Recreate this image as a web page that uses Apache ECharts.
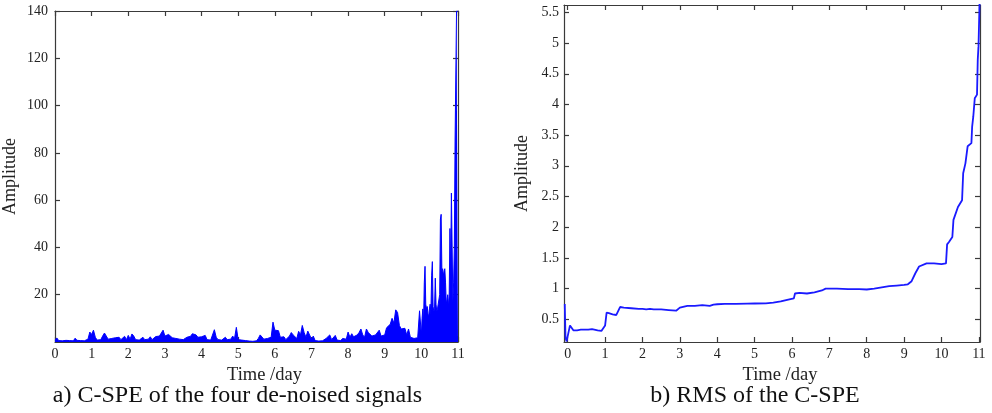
<!DOCTYPE html>
<html><head><meta charset="utf-8">
<script src="https://cdn.jsdelivr.net/npm/echarts@6/dist/echarts.min.js"></script>
<style>html,body{margin:0;padding:0;background:#fff}#c{width:992px;height:413px}</style>
</head><body><div id="c"></div>
<script>
// ---- data ----
const xTicks = [0,1,2,3,4,5,6,7,8,9,10,11];
const speYTicks = [20,40,60,80,100,120,140];
const rmsYTicks = [0.5,1,1.5,2,2.5,3,3.5,4,4.5,5,5.5];

// C-SPE, days 0 .. 9.95 sampled every 0.05 day
const speStart0 = 0, speStep0 = 0.05;
const spe0 = [
  0.8,1.7,0.6,0.9,0.5,1.2,0.7,1.4,0.6,0.9,0.5,1.6,0.7,0.8,0.6,1.3,0.5,0.9,1.2,4.2,
  3.2,5.0,2.0,0.8,0.6,1.0,2.5,3.8,3.9,1.2,0.9,1.5,0.8,1.8,1.2,2.0,1.0,1.4,2.4,1.0,
  2.8,1.2,3.4,2.5,1.0,1.5,0.8,1.2,2.0,1.0,1.6,1.2,2.2,1.0,1.5,2.3,1.8,2.5,3.0,5.0,
  2.5,2.0,3.2,2.8,1.8,2.5,1.5,2.2,1.2,1.8,1.0,1.6,2.0,1.2,2.4,3.5,2.8,3.0,2.0,1.5,
  2.2,1.5,2.8,1.0,1.6,0.8,1.5,5.2,2.0,1.0,1.5,0.8,1.2,2.0,1.0,1.8,1.2,2.5,1.5,6.2,
  1.0,0.4,0.8,0.3,0.6,1.0,0.4,0.7,0.3,0.8,0.5,1.5,3.0,2.8,1.2,0.8,1.5,1.0,2.0,8.4,
  5.0,4.5,4.8,2.0,1.5,2.2,1.0,1.8,2.5,4.0,3.0,3.8,1.5,4.5,3.0,7.0,4.0,2.0,4.6,3.0,
  1.2,2.5,0.6,0.8,0.4,0.7,0.5,1.2,1.5,2.0,3.0,1.0,1.5,2.8,0.8,1.2,0.6,1.5,2.0,1.2,
  4.2,2.0,3.5,2.2,2.8,3.0,4.0,5.5,3.0,2.0,5.5,4.0,4.5,2.5,1.8,3.0,3.5,5.0,2.5,2.0,
  3.0,6.0,5.5,7.5,10.0,8.0,13.6,12.5,7.0,5.5,5.0,5.8,3.0,5.5,2.0,1.8,1.5,2.2,1.8,13.2
];
// C-SPE, days 10.00 .. 11.00 sampled every 0.02 day
const speStart1 = 10, speStep1 = 0.02;
const spe1 = [
  3.0,10.0,14.0,8.0,25.0,32.0,16.0,14.0,15.0,12.0,
  10.5,14.0,16.0,12.0,28.0,34.0,15.0,13.0,14.0,27.0,
  16.0,13.0,14.0,13.5,14.0,20.0,52.0,54.0,30.0,31.0,
  28.0,30.0,31.0,25.0,16.0,18.0,20.0,15.0,20.0,48.0,
  30.0,63.0,40.0,17.0,25.0,40.0,85.0,85.0,140,140,
  140
];

// RMS of the C-SPE
const rmsT = [-0.08,-0.06,-0.03,0.02,0.06,0.1,0.15,0.2,0.25,0.3,0.35,0.4,0.45,0.5,0.55,0.6,0.65,0.7,0.8,0.9,0.95,1.0,1.04,1.1,1.2,1.3,1.35,1.4,1.45,1.5,1.7,1.9,2.0,2.1,2.2,2.3,2.5,2.7,2.9,2.95,3.0,3.05,3.2,3.4,3.6,3.8,3.9,4.0,4.2,4.5,4.8,5.0,5.3,5.5,5.7,5.9,6.05,6.08,6.2,6.4,6.6,6.8,6.9,7.2,7.5,7.8,8.0,8.2,8.4,8.6,8.8,9.0,9.1,9.2,9.3,9.4,9.45,9.6,9.8,10.0,10.12,10.15,10.2,10.29,10.32,10.35,10.44,10.55,10.58,10.64,10.7,10.8,10.82,10.85,10.89,10.95,10.97,10.99,11.02];
const rmsV = [0.75,0.2,0.14,0.14,0.40,0.37,0.32,0.34,0.32,0.34,0.33,0.34,0.33,0.32,0.33,0.35,0.34,0.33,0.32,0.31,0.33,0.40,0.61,0.60,0.58,0.57,0.60,0.70,0.71,0.69,0.68,0.67,0.67,0.66,0.67,0.66,0.66,0.65,0.64,0.65,0.69,0.71,0.72,0.72,0.73,0.72,0.74,0.745,0.75,0.75,0.755,0.757,0.76,0.77,0.79,0.82,0.84,0.92,0.93,0.92,0.94,0.97,1.0,1.0,0.99,0.99,0.985,1.0,1.02,1.04,1.05,1.06,1.07,1.12,1.25,1.36,1.38,1.41,1.41,1.40,1.41,1.72,1.76,1.84,2.12,2.15,2.33,2.44,2.88,3.04,3.32,3.37,3.64,3.8,4.1,4.16,4.73,4.95,5.7];

// ---- build ----
const speData = spe0.map((v,i)=>[+(speStart0+i*speStep0).toFixed(3), v])
  .concat(spe1.map((v,i)=>[+(speStart1+i*speStep1).toFixed(3), v]));
const rmsData = rmsT.map((t,i)=>[t, rmsV[i]]);

const FONT = '"Liberation Serif", "Times New Roman", serif';
const LINE = {show:true, onZero:false, lineStyle:{color:'#3a3a3a', width:1.2}};
function axis(o){
  const a = {
    type:'value', gridIndex:o.grid, position:o.pos, min:o.min, max:o.max,
    axisLine:LINE,
    axisTick:{show:true, inside:true, length:5, customValues:o.ticks, lineStyle:{color:'#3a3a3a', width:1.2}},
    axisLabel:{show:!!o.label, customValues:o.ticks, fontFamily:FONT, fontSize:14, color:'#222', margin:o.margin||6},
    splitLine:{show:false}
  };
  if(o.name){
    a.name=o.name; a.nameLocation='middle'; a.nameGap=o.nameGap;
    a.nameTextStyle={fontFamily:FONT, fontSize:o.nameSize||18, color:'#222', padding:o.namePad||0};
  }
  return a;
}

const chart = echarts.init(document.getElementById('c'), null, {renderer:'canvas'});
chart.setOption({
  animation:false,
  backgroundColor:'#fff',
  grid:[
    {left:53, top:11, width:405, height:331},
    {left:564, top:5, width:416, height:337}
  ],
  xAxis:[
    axis({grid:0,pos:'bottom',min:0,max:11,ticks:xTicks,label:true,name:'Time /day',nameGap:22,margin:5,nameSize:18.5,namePad:[0,0,0,16]}),
    axis({grid:0,pos:'top',min:0,max:11,ticks:xTicks}),
    axis({grid:1,pos:'bottom',min:-0.1,max:11.03,ticks:xTicks,label:true,name:'Time /day',nameGap:22,margin:5,nameSize:18.5,namePad:[0,0,0,16]}),
    axis({grid:1,pos:'top',min:-0.1,max:11.03,ticks:xTicks})
  ],
  yAxis:[
    axis({grid:0,pos:'left',min:0,max:140,ticks:speYTicks,label:true,name:'Amplitude',nameGap:36,margin:7}),
    axis({grid:0,pos:'right',min:0,max:140,ticks:speYTicks}),
    axis({grid:1,pos:'left',min:0.13,max:5.62,ticks:rmsYTicks,label:true,name:'Amplitude',nameGap:33,margin:5}),
    axis({grid:1,pos:'right',min:0.13,max:5.62,ticks:rmsYTicks})
  ],
  series:[
    {type:'line', xAxisIndex:0, yAxisIndex:0, data:speData, showSymbol:false, symbol:'none',
     lineStyle:{color:'#0000ff', width:1}, areaStyle:{color:'#0000ff', opacity:1}, clip:true},
    {type:'line', xAxisIndex:2, yAxisIndex:2, data:rmsData, showSymbol:false, symbol:'none',
     lineStyle:{color:'#1a1aff', width:1.8}, clip:true}
  ],
  graphic:[
    {type:'text', x:237.5, y:396, style:{text:'a) C-SPE of the four de-noised signals', fontFamily:FONT, fontSize:24, fill:'#111', align:'center', verticalAlign:'middle'}},
    {type:'text', x:755, y:396, style:{text:'b) RMS of the C-SPE', fontFamily:FONT, fontSize:24, fill:'#111', align:'center', verticalAlign:'middle'}}
  ]
});
</script></body></html>
